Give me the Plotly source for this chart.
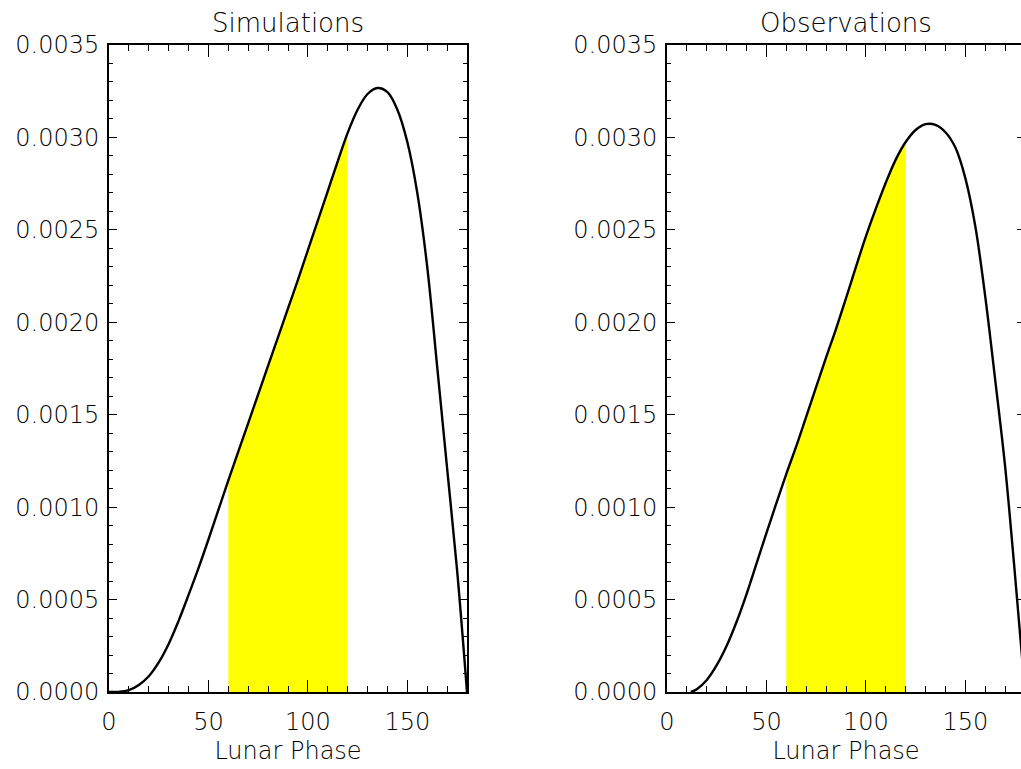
import plotly.graph_objects as go

# Lunar phase samples (degrees)
sim_phase = [0, 5, 10, 15, 20, 25, 30, 35, 40, 45, 50, 55, 60, 65, 70, 75, 80, 85, 90,
             95, 100, 105, 110, 115, 120, 125, 130, 135, 140, 145, 150, 155, 160, 165,
             170, 175, 180]
sim_value = [0.0, 0.000001, 0.000010, 0.000038, 0.000085, 0.000160, 0.000260, 0.000385,
             0.000525, 0.000670, 0.000825, 0.000985, 0.001145, 0.001300, 0.001455,
             0.001610, 0.001765, 0.001920, 0.002075, 0.002230, 0.002390, 0.002550,
             0.002710, 0.002870, 0.003025, 0.003150, 0.003235, 0.003267, 0.003245,
             0.003150, 0.002975, 0.002700, 0.002300, 0.001760, 0.001210, 0.000660, 0.0]

obs_phase = [12, 15, 20, 25, 30, 35, 40, 45, 50, 55, 60, 65, 70, 75, 80, 85, 90, 95,
             100, 105, 110, 115, 120, 125, 130, 135, 140, 145, 150, 155, 160, 165, 170,
             175, 180]
obs_value = [0.0, 0.000015, 0.000065, 0.000145, 0.000250, 0.000380, 0.000530, 0.000695,
             0.000860, 0.001022, 0.001180, 0.001330, 0.001490, 0.001650, 0.001810,
             0.001965, 0.002130, 0.002300, 0.002465, 0.002615, 0.002755, 0.002880,
             0.002975, 0.003040, 0.003072, 0.003068, 0.003028, 0.002945, 0.002780,
             0.002520, 0.002140, 0.001690, 0.001220, 0.000630, 0.0]

band_lo, band_hi = 60, 120
panel_titles = ["Simulations", "Observations"]
x_title = "Lunar Phase"

W, H = 1030, 769
FONT = "DejaVu Sans"

fig = go.Figure()

def add_panel(xs, ys, xa, ya):
    bx = [x for x in xs if band_lo <= x <= band_hi]
    by = [y for x, y in zip(xs, ys) if band_lo <= x <= band_hi]
    fig.add_trace(go.Scatter(x=bx, y=by, mode="lines", fill="tozeroy",
                             fillcolor="#ffff00",
                             line=dict(width=0, color="#ffff00", shape="spline", smoothing=1.0),
                             xaxis=xa, yaxis=ya, showlegend=False, hoverinfo="skip"))
    fig.add_trace(go.Scatter(x=xs, y=ys, mode="lines",
                             line=dict(color="black", width=2.4, shape="spline", smoothing=1.0),
                             xaxis=xa, yaxis=ya, showlegend=False))

add_panel(sim_phase, sim_value, "x", "y")
add_panel(obs_phase, obs_value, "x2", "y2")

ydom = [(H - 692) / H, (H - 45) / H]
xdom1 = [109 / W, 467 / W]
xdom2 = [667 / W, 1025 / W]

tickfont = dict(family=FONT, size=24, color="black", weight=200)

xcommon = dict(range=[0, 180], tickvals=[0, 50, 100, 150], ticks="inside", ticklen=12,
               tickwidth=1.2, tickcolor="black", showline=True, linecolor="black",
               linewidth=1.8, mirror="ticks", showgrid=False, zeroline=False,
               tickfont=tickfont, ticklabelstandoff=7, automargin=False,
               minor=dict(dtick=10, ticks="inside", ticklen=6, tickwidth=1.2, tickcolor="black"),
               title=dict(text=x_title, font=dict(family=FONT, size=24, color="black", weight=200),
                          standoff=7))
ycommon = dict(range=[0, 0.0035], dtick=0.0005, tickformat=".4f", ticks="inside", ticklen=8,
               tickwidth=1.2, tickcolor="black", showline=True, linecolor="black",
               linewidth=1.8, mirror="ticks", showgrid=False, zeroline=False,
               tickfont=tickfont, ticklabelstandoff=3, domain=ydom, automargin=False,
               minor=dict(dtick=0.0001, ticks="inside", ticklen=4, tickwidth=1.2, tickcolor="black"))

fig.update_layout(
    width=W, height=H, margin=dict(l=0, r=0, t=0, b=0),
    plot_bgcolor="white", paper_bgcolor="white",
    xaxis=dict(domain=xdom1, anchor="y", **xcommon),
    yaxis=dict(anchor="x", **ycommon),
    xaxis2=dict(domain=xdom2, anchor="y2", **xcommon),
    yaxis2=dict(anchor="x2", **ycommon),
)

for dom, t in zip([xdom1, xdom2], panel_titles):
    fig.add_annotation(text=t, x=(dom[0] + dom[1]) / 2, y=ydom[1], xref="paper", yref="paper",
                       xanchor="center", yanchor="bottom", yshift=5, showarrow=False,
                       font=dict(family=FONT, size=26, color="black", weight=200))

fig.write_html("out.html", post_script="document.body.style.overflow='hidden';document.body.style.margin='0';")
